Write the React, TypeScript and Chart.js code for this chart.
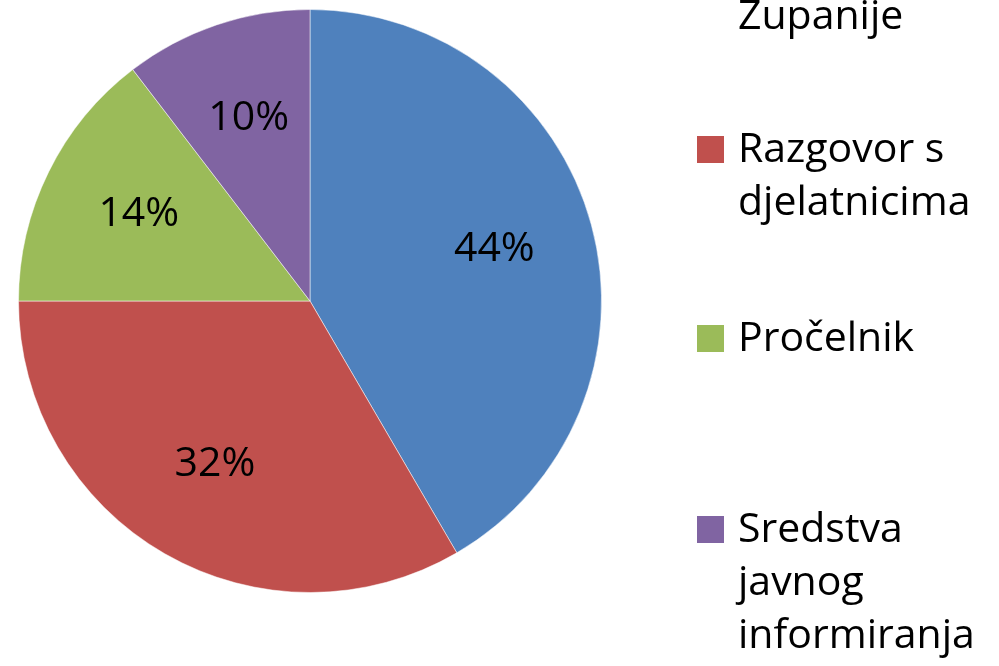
import React, { useEffect, useRef } from "react";
import { Chart, registerables } from "chart.js";

Chart.register(...registerables);

const categories: string[][] = [
  ["Web stranice", "Županije"],
  ["Razgovor s", "djelatnicima"],
  ["Pročelnik"],
  ["Sredstva", "javnog", "informiranja"],
];
const sliceValues: number[] = [41.6, 33.4, 14.6, 10.4];
const percentLabels: string[] = ["44%", "32%", "14%", "10%"];
const sliceColors: string[] = ["#4F81BD", "#C0504D", "#9BBB59", "#8064A2"];

const FONT = "'Open Sans', 'DejaVu Sans', sans-serif";
const FONT_SIZE = 41;

const overlayPlugin = {
  id: "overlay",
  afterDraw(chart: any) {
    const ctx = chart.ctx as CanvasRenderingContext2D;
    const meta = chart.getDatasetMeta(0);
    ctx.save();
    ctx.font = `${FONT_SIZE}px ${FONT}`;
    ctx.fillStyle = "#000";
    // percent labels inside slices
    ctx.textAlign = "center";
    ctx.textBaseline = "middle";
    meta.data.forEach((arc: any, i: number) => {
      const p = arc.getProps(["x", "y", "startAngle", "endAngle", "outerRadius"], true);
      const mid = (p.startAngle + p.endAngle) / 2;
      const r = p.outerRadius * 0.655;
      ctx.fillText(percentLabels[i], p.x + Math.cos(mid) * r, p.y + Math.sin(mid) * r - 2);
    });
    // legend
    const firstBaselines = [-24, 162, 351, 542];
    const lineH = 53;
    const markerX = 697;
    const markerSize = 27;
    const textX = 738;
    ctx.textAlign = "left";
    ctx.textBaseline = "alphabetic";
    categories.forEach((lines, i) => {
      const b0 = firstBaselines[i];
      ctx.fillStyle = sliceColors[i];
      ctx.fillRect(markerX, b0 - markerSize + 1, markerSize, markerSize);
      ctx.fillStyle = "#000";
      lines.forEach((ln, j) => ctx.fillText(ln, textX, b0 + j * lineH));
    });
    ctx.restore();
  },
};

export default function App() {
  const ref = useRef<HTMLCanvasElement>(null);
  useEffect(() => {
    if (!ref.current) return;
    const chart = new Chart(ref.current, {
      type: "pie",
      data: {
        labels: categories.map((l) => l.join(" ")),
        datasets: [
          {
            data: sliceValues,
            backgroundColor: sliceColors,
            borderColor: "rgba(255,255,255,0.5)",
            borderWidth: 1,
          },
        ],
      },
      options: {
        responsive: false,
        animation: false,
        rotation: 0,
        layout: { padding: { left: 18, top: 9, right: 397, bottom: 73 } },
        plugins: {
          legend: { display: false },
          tooltip: { enabled: false },
        },
      },
      plugins: [overlayPlugin],
    });
    return () => chart.destroy();
  }, []);
  return (
    <div style={{ position: "absolute", left: 0, top: 0, width: 999, height: 666, background: "#fff" }}>
      <canvas ref={ref} width={999} height={666} style={{ display: "block" }} />
    </div>
  );
}
